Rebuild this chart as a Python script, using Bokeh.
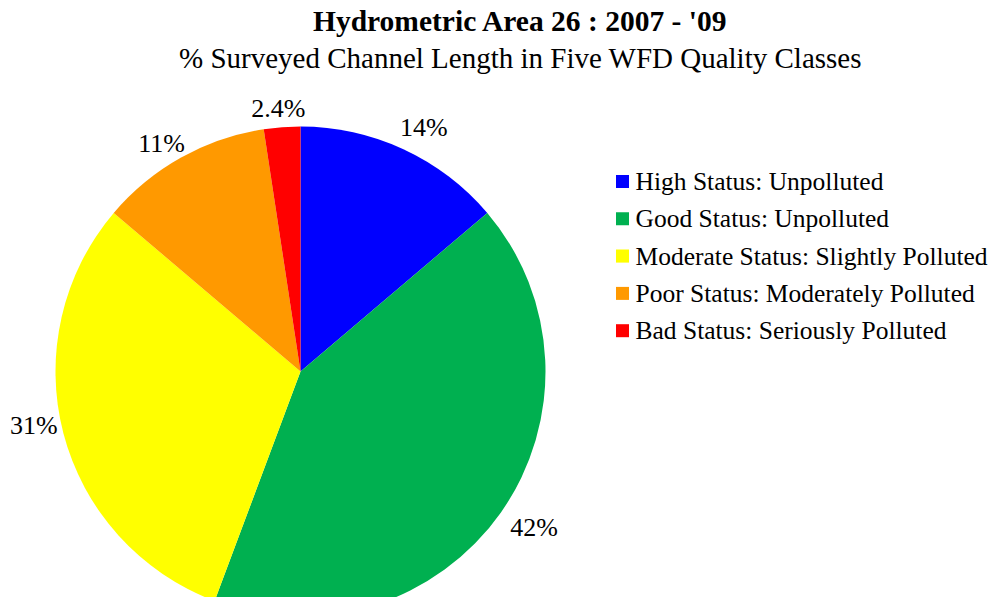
import math
from bokeh.plotting import figure
from bokeh.models import Range1d, ColumnDataSource
from bokeh.core.properties import value
from bokeh.embed import file_html
from bokeh.resources import INLINE

categories = ["High Status: Unpolluted", "Good Status: Unpolluted",
              "Moderate Status: Slightly Polluted", "Poor Status: Moderately Polluted",
              "Bad Status: Seriously Polluted"]
shares = [13.8, 41.9, 30.5, 11.4, 2.4]
labels = ["14%", "42%", "31%", "11%", "2.4%"]
colors = ["#0000FF", "#00B050", "#FFFF00", "#FF9900", "#FF0000"]

W, H = 992, 597
p = figure(width=W, height=H, output_backend="svg", toolbar_location=None,
           x_range=Range1d(0, W), y_range=Range1d(-H, 0),
           min_border=0, outline_line_color=None)
p.axis.visible = False
p.grid.visible = False
p.background_fill_color = "white"
p.border_fill_color = "white"

FONT = value("Liberation Serif")
cx, cy, R = 300, -371, 245

total = sum(shares)
starts, ends, mids = [], [], []
c = 0.0
for s in shares:
    a0 = math.pi / 2 - 2 * math.pi * c / total
    c += s
    a1 = math.pi / 2 - 2 * math.pi * c / total
    starts.append(a0)
    ends.append(a1)
    mids.append((a0 + a1) / 2)

src = ColumnDataSource(dict(start=starts, end=ends, color=colors))
p.wedge(x=cx, y=cy, radius=R, start_angle="start", end_angle="end",
        direction="clock", fill_color="color", line_color=None, source=src)

# data labels (outside end, small angular nudges like the original layout)
lr = [273, 281, 272, 267, 264]
nudge_deg = [-2.0, 1.3, -3.2, 2.2, 0.5]
lx = [cx + r * math.cos(m + math.radians(d)) for r, m, d in zip(lr, mids, nudge_deg)]
ly = [cy + r * math.sin(m + math.radians(d)) for r, m, d in zip(lr, mids, nudge_deg)]
p.text(x=lx, y=ly, text=labels, text_font=FONT, text_font_size="26px",
       text_align="center", text_baseline="middle", text_color="#000000")

# titles
p.text(x=[520], y=[-20], text=["Hydrometric Area 26 : 2007 - '09"], text_font=FONT,
       text_font_size="29.5px", text_font_style="bold", text_align="center",
       text_baseline="middle", text_color="#000000")
p.text(x=[520], y=[-57], text=["% Surveyed Channel Length in Five WFD Quality Classes"],
       text_font=FONT, text_font_size="29px", text_align="center",
       text_baseline="middle", text_color="#000000")

# legend
ys = [-181 - i * 37.3 for i in range(len(categories))]
p.rect(x=[622] * len(categories), y=ys, width=13, height=13, fill_color=colors, line_color=None)
p.text(x=[635] * len(categories), y=ys, text=categories, text_font=FONT,
       text_font_size="25.5px", text_align="left", text_baseline="middle", text_color="#000000")

open("out.html", "w").write(file_html(p, INLINE))
